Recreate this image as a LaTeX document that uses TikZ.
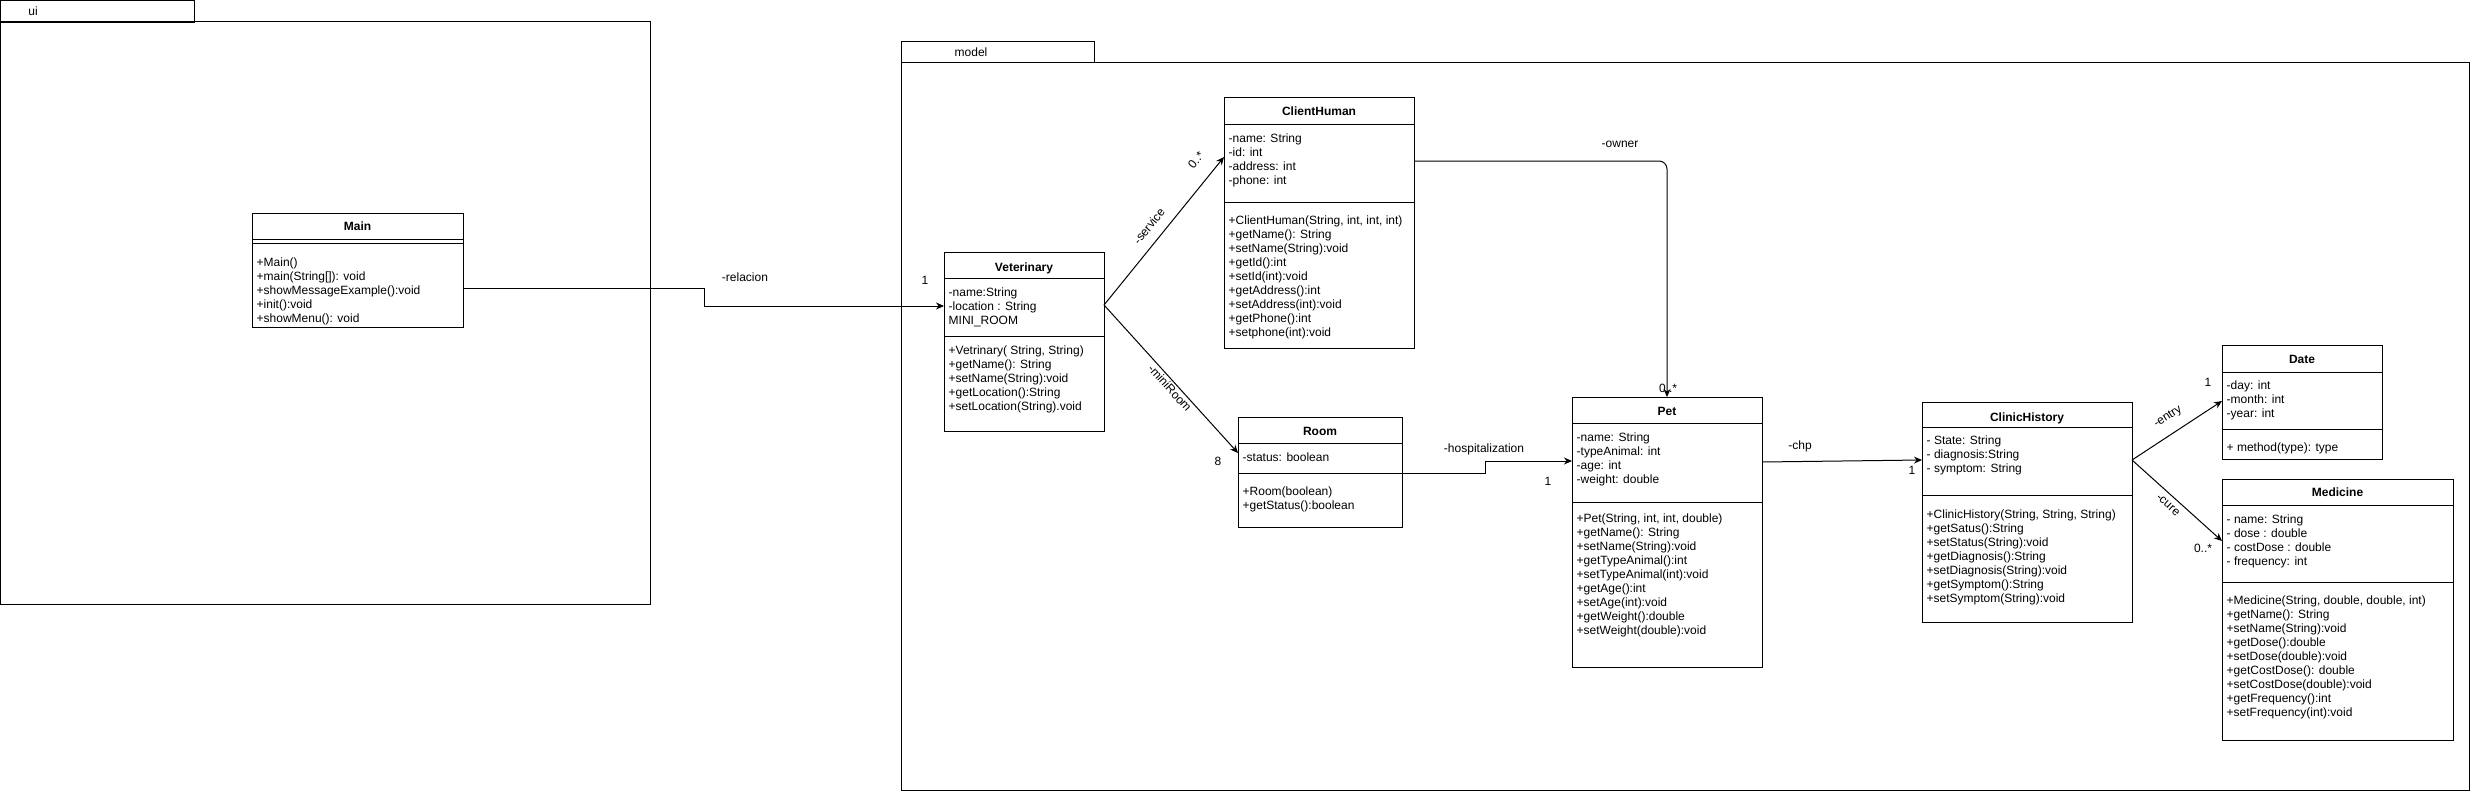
\documentclass[tikz,border=0pt]{standalone}
\usepackage{fontspec}
\setmainfont{Liberation Sans}
\usetikzlibrary{arrows.meta}
\tikzset{
  box/.style={draw=black, line width=1pt, fill=white, inner sep=0pt, outer sep=0pt, anchor=north west},
  pkg/.style={draw=black, line width=1pt, inner sep=0pt, outer sep=0pt, anchor=north west},
  sepline/.style={draw=black, line width=1pt},
  ttl/.style={font=\fontsize{12}{14}\selectfont\bfseries, inner sep=0pt, anchor=base},
  txt/.style={font=\fontsize{12}{14}\selectfont, align=left, inner sep=0pt, anchor=north west},
  lbl/.style={font=\fontsize{12}{14}\selectfont, inner sep=0pt},
  conn/.style={draw=black, line width=1pt, -{Stealth[length=8pt,width=7pt]}}
}
\begin{document}
\begin{tikzpicture}[x=1pt,y=-1pt]
\useasboundingbox (0,0) rectangle (2471,792);
% packages
\node[pkg, minimum width=194pt, minimum height=22pt] (uitab) at (0.5,0.5) {};
\node[pkg, minimum width=650pt, minimum height=582pt] (uibody) at (0.5,22) {};
\node[lbl] (uitext) at (33,11) {ui};
\node[pkg, minimum width=193pt, minimum height=21pt] (mtab) at (901,42) {};
\node[pkg, minimum width=1568pt, minimum height=727pt] (mbody) at (901,63) {};
\node[lbl] (mtext) at (971,52) {model};

% Main
\node[box, minimum width=211pt, minimum height=114pt] (main) at (252,213) {};
\draw[sepline] (252,239) -- (463,239);
\draw[sepline] (252,243) -- (463,243);
\node[ttl] (maint) at (357.5,230.5) {Main};
\node[txt] (mainm) at (256.5,257.5) {+Main()\\+main(String[]): void\\+showMessageExample():void\\+init():void\\+showMenu(): void};

% Veterinary
\node[box, minimum width=160pt, minimum height=179pt] (vet) at (944,252) {};
\draw[sepline] (944,278) -- (1104,278);
\draw[sepline] (944,336) -- (1104,336);
\node[ttl] (vett) at (1024,271) {Veterinary};
\node[txt] (veta) at (948.5,287.2) {-name:String\\-location : String\\MINI\_ROOM};
\node[txt] (vetm) at (948.5,345.5) {+Vetrinary( String, String)\\+getName(): String\\+setName(String):void\\+getLocation():String\\+setLocation(String).void};

% ClientHuman
\node[box, minimum width=190pt, minimum height=251pt] (ch) at (1224,97) {};
\draw[sepline] (1224,124) -- (1414,124);
\draw[sepline] (1224,202) -- (1414,202);
\node[ttl] (cht) at (1319,115.5) {ClientHuman};
\node[txt] (cha) at (1228.5,133.5) {-name: String\\-id: int\\-address: int\\-phone: int};
\node[txt] (chm) at (1228.5,215.5) {+ClientHuman(String, int, int, int)\\+getName(): String\\+setName(String):void\\+getId():int\\+setId(int):void\\+getAddress():int\\+setAddress(int):void\\+getPhone():int\\+setphone(int):void};

% Room
\node[box, minimum width=164pt, minimum height=110pt] (room) at (1238,417) {};
\draw[sepline] (1238,443) -- (1402,443);
\draw[sepline] (1238,473) -- (1402,473);
\node[ttl] (roomt) at (1320,435.5) {Room};
\node[txt] (rooma) at (1242.5,452.5) {-status: boolean};
\node[txt] (roomm) at (1242.5,486.5) {+Room(boolean)\\+getStatus():boolean};

% Pet
\node[box, minimum width=190pt, minimum height=270pt] (pet) at (1572,397) {};
\draw[sepline] (1572,423) -- (1762,423);
\draw[sepline] (1572,502) -- (1762,502);
\node[ttl] (pett) at (1667,415.5) {Pet};
\node[txt] (peta) at (1576.5,432.5) {-name: String\\-typeAnimal: int\\-age: int\\-weight: double};
\node[txt] (petm) at (1576.5,513.5) {+Pet(String, int, int, double)\\+getName(): String\\+setName(String):void\\+getTypeAnimal():int\\+setTypeAnimal(int):void\\+getAge():int\\+setAge(int):void\\+getWeight():double\\+setWeight(double):void};

% ClinicHistory
\node[box, minimum width=210pt, minimum height=220pt] (clin) at (1922,402) {};
\draw[sepline] (1922,427) -- (2132,427);
\draw[sepline] (1922,495) -- (2132,495);
\node[ttl] (clint) at (2027,421.5) {ClinicHistory};
\node[txt] (clina) at (1926.5,435.5) {- State: String\\- diagnosis:String\\- symptom: String};
\node[txt] (clinm) at (1926.5,509.5) {+ClinicHistory(String, String, String)\\+getSatus():String\\+setStatus(String):void\\+getDiagnosis():String\\+setDiagnosis(String):void\\+getSymptom():String\\+setSymptom(String):void};

% Date
\node[box, minimum width=160pt, minimum height=114pt] (date) at (2222,345) {};
\draw[sepline] (2222,372) -- (2382,372);
\draw[sepline] (2222,429) -- (2382,429);
\node[ttl] (datet) at (2302,363.5) {Date};
\node[txt] (datea) at (2226.5,380.5) {-day: int\\-month: int\\-year: int};
\node[txt] (datem) at (2226.5,442.5) {+ method(type): type};

% Medicine
\node[box, minimum width=231pt, minimum height=261pt] (med) at (2222,479) {};
\draw[sepline] (2222,505) -- (2453,505);
\draw[sepline] (2222,582) -- (2453,582);
\node[ttl] (medt) at (2337.5,496.5) {Medicine};
\node[txt] (meda) at (2226.5,514.5) {- name: String\\- dose : double\\- costDose : double\\- frequency: int};
\node[txt] (medm) at (2226.5,595.5) {+Medicine(String, double, double, int)\\+getName(): String\\+setName(String):void\\+getDose():double\\+setDose(double):void\\+getCostDose(): double\\+setCostDose(double):void\\+getFrequency():int\\+setFrequency(int):void};

% connectors
\draw[conn] ([yshift=-75pt]main.north east) -- ++(241,0) |- ([yshift=-54pt]vet.north west);
\node[lbl] (l1) at (745,277) {-relacion};
\node[lbl] (l1m) at (925,280) {1};

\draw[conn] ([yshift=-53pt]vet.north east) -- ([yshift=-60pt]ch.north west);
\node[lbl, rotate=51] (l2) at (1149,226) {-service};
\node[lbl, rotate=51] (l2m) at (1196,160) {0..*};

\draw[conn] ([yshift=-53pt]vet.north east) -- ([yshift=-36pt]room.north west);
\node[lbl, rotate=-48] (l3) at (1170,388) {-miniRoom};
\node[lbl] (l3m) at (1218,461) {8};

\draw[conn, rounded corners=8pt] ([yshift=-64pt]ch.north east) -| (pet.north);
\node[lbl] (l4) at (1620,144) {-owner};
\node[lbl] (l4m) at (1668,388) {0..*};

\draw[conn] ([yshift=-56pt]room.north east) -- ++(83,0) |- ([yshift=-64pt]pet.north west);
\node[lbl] (l5) at (1484,449) {-hospitalization};
\node[lbl] (l5m) at (1548,481) {1};

\draw[conn] ([yshift=-65pt]pet.north east) -- ([yshift=-58pt]clin.north west);
\node[lbl] (l6) at (1800,446) {-chp};
\node[lbl] (l6m) at (1912,470) {1};

\draw[conn] ([yshift=-58pt]clin.north east) -- ([yshift=-56pt]date.north west);
\node[lbl, rotate=33] (l7) at (2168,417) {-entry};
\node[lbl] (l7m) at (2208,382) {1};

\draw[conn] ([yshift=-58pt]clin.north east) -- ([yshift=-62pt]med.north west);
\node[lbl, rotate=-42] (l8) at (2168,505) {-cure};
\node[lbl] (l8m) at (2203,548) {0..*};
\end{tikzpicture}
\end{document}
